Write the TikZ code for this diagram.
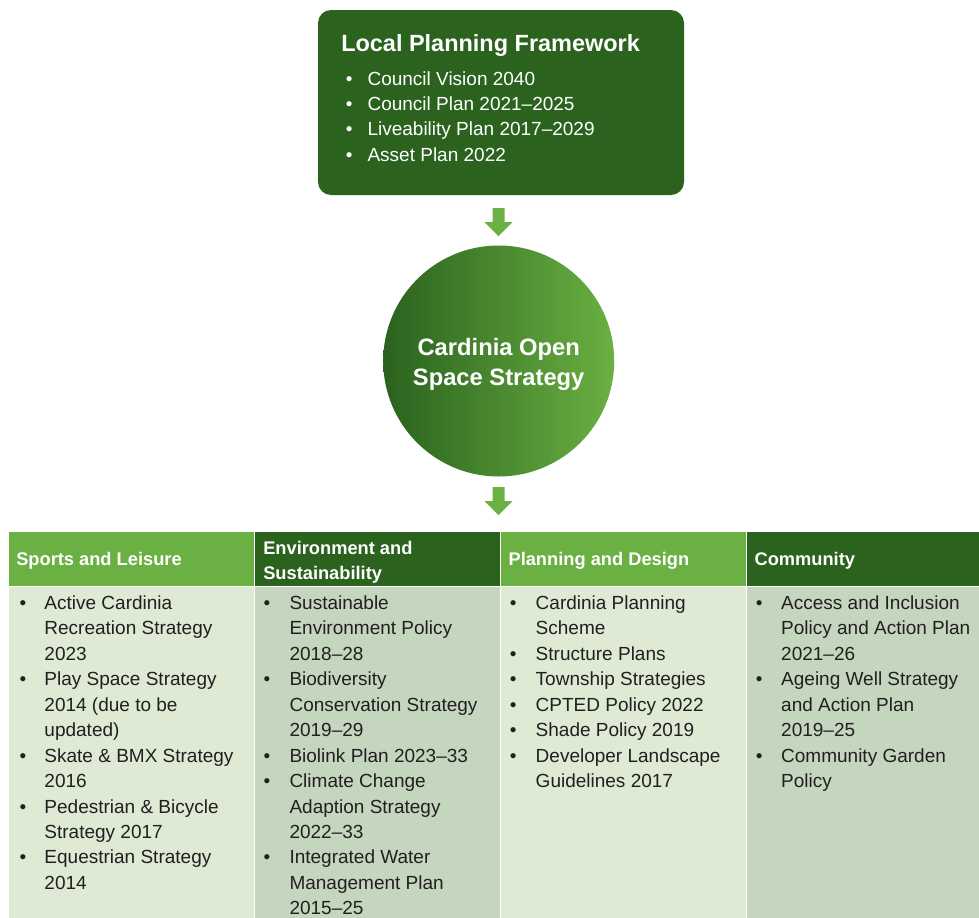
\documentclass[tikz,border=0pt]{standalone}
\usepackage{fontspec}
\setmainfont{Liberation Sans}
\usetikzlibrary{positioning,calc}

\definecolor{darkleaf}{HTML}{2A621E}
\definecolor{leaf}{HTML}{6AB042}
\definecolor{midleaf}{HTML}{5E9357}
\definecolor{paleleaf}{HTML}{DEEAD3}
\definecolor{sageleaf}{HTML}{C4D6BE}
\definecolor{inkgrey}{HTML}{231F20}

% bullet list: #1 = gap from bullet to text, #2 = rows
\newcommand{\bulletlist}[2]{{\fontsize{14.25}{19.1}\selectfont
  \begin{tabular}[t]{@{}p{#1}@{}l@{}}#2\end{tabular}}}
\newcommand{\headlines}[1]{{\fontsize{13.7}{18.75}\selectfont\bfseries
  \begin{tabular}[t]{@{}l@{}}#1\end{tabular}}}
\newcommand{\dotb}{\textbullet}
\newcommand{\blockarrow}[1]{%
  \fill[leaf] ($(#1)+(-6,-14)$) -- ++(12,0) -- ++(0,14) -- ++(8,0)
    -- ++(-14,14) -- ++(-14,-14) -- ++(8,0) -- cycle;}

\begin{document}
\begin{tikzpicture}[
    x=0.75pt, y=-0.75pt,
    framebox/.style={rectangle, rounded corners=9.75pt, fill=darkleaf,
      minimum width=274.5pt, minimum height=138.75pt},
    hub/.style={circle, left color=darkleaf, middle color=midleaf,
      right color=leaf, minimum size=173.25pt},
    hubtext/.style={text=white, align=center, inner sep=0pt,
      font=\fontsize{17.8}{22.5}\selectfont\bfseries},
    listtext/.style={anchor=base west, inner sep=0pt, text=inkgrey},
    headtext/.style={anchor=base west, inner sep=0pt, text=white}
  ]
    \useasboundingbox (0,0) rectangle (979,918);
    \fill[white] (0,0) rectangle (979,918);

    \node[framebox] (lpf) at (501,102.5) {};
    \node[headtext, font=\fontsize{17.6}{20}\selectfont\bfseries] (lpftitle)
      at (341,51.7) {Local Planning Framework};
    \node[listtext, text=white] (lpflist) at (345.7,85) {\bulletlist{16.2pt}{%
      \dotb & Council Vision 2040\\
      \dotb & Council Plan 2021–2025\\
      \dotb & Liveability Plan 2017–2029\\
      \dotb & Asset Plan 2022}};

    \node[hub] (cos) at (498.7,361) {};
    \node[hubtext, yshift=-2.5pt] (costext) at (cos.center) {Cardinia Open\\Space Strategy};

    \coordinate (arrtop) at (498.5,222);
    \coordinate (arrbottom) at (498.5,501);
    \blockarrow{arrtop}
    \blockarrow{arrbottom}

    % header row
    \fill[leaf] (9,531.5) rectangle (254,585.5);
    \fill[darkleaf] (255,531.5) rectangle (499.5,585.5);
    \fill[leaf] (500.5,531.5) rectangle (745.5,585.5);
    \fill[darkleaf] (746.5,531.5) rectangle (979,585.5);
    % body row
    \fill[paleleaf] (9,586.5) rectangle (254,918);
    \fill[sageleaf] (255,586.5) rectangle (499.5,918);
    \fill[paleleaf] (500.5,586.5) rectangle (745.5,918);
    \fill[sageleaf] (746.5,586.5) rectangle (979,918);

    \node[headtext] (hsport) at (16,565.7) {\headlines{Sports and Leisure}};
    \node[headtext] (henv) at (263,554.3) {\headlines{Environment and\\Sustainability}};
    \node[headtext] (hplan) at (508.3,565.7) {\headlines{Planning and Design}};
    \node[headtext] (hcomm) at (754.3,565.7) {\headlines{Community}};

    \node[listtext] (lsport) at (19.4,609.3) {\bulletlist{18.6pt}{%
      \dotb & Active Cardinia\\
            & Recreation Strategy\\
            & 2023\\
      \dotb & Play Space Strategy\\
            & 2014 (due to be\\
            & updated)\\
      \dotb & Skate \& BMX Strategy\\
            & 2016\\
      \dotb & Pedestrian \& Bicycle\\
            & Strategy 2017\\
      \dotb & Equestrian Strategy\\
            & 2014}};
    \node[listtext] (lenv) at (263.4,609.3) {\bulletlist{19.4pt}{%
      \dotb & Sustainable\\
            & Environment Policy\\
            & 2018–28\\
      \dotb & Biodiversity\\
            & Conservation Strategy\\
            & 2019–29\\
      \dotb & Biolink Plan 2023–33\\
      \dotb & Climate Change\\
            & Adaption Strategy\\
            & 2022–33\\
      \dotb & Integrated Water\\
            & Management Plan\\
            & 2015–25}};
    \node[listtext] (lplan) at (509.6,609.3) {\bulletlist{19.4pt}{%
      \dotb & Cardinia Planning\\
            & Scheme\\
      \dotb & Structure Plans\\
      \dotb & Township Strategies\\
      \dotb & CPTED Policy 2022\\
      \dotb & Shade Policy 2019\\
      \dotb & Developer Landscape\\
            & Guidelines 2017}};
    \node[listtext] (lcomm) at (755.6,609.3) {\bulletlist{19pt}{%
      \dotb & Access and Inclusion\\
            & Policy and Action Plan\\
            & 2021–26\\
      \dotb & Ageing Well Strategy\\
            & and Action Plan\\
            & 2019–25\\
      \dotb & Community Garden\\
            & Policy}};
  \end{tikzpicture}
\end{document}
